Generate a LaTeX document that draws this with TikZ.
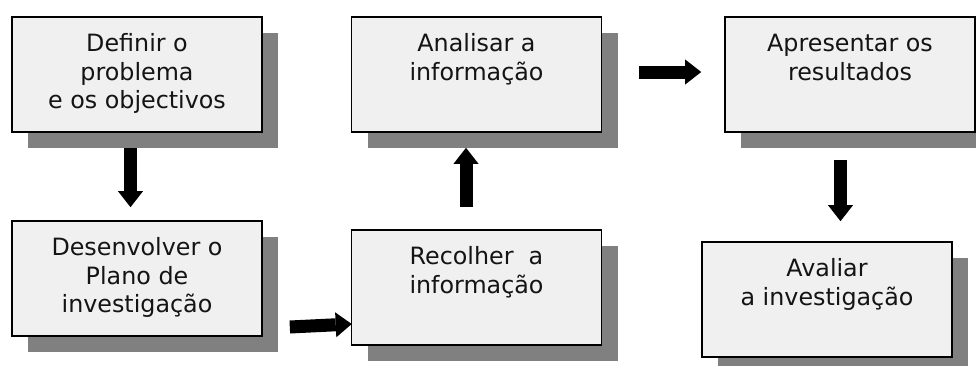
\documentclass[tikz,border=0pt]{standalone}
\usepackage{fontspec}
\setmainfont{DejaVu Sans}
\usetikzlibrary{arrows.meta,shadows,calc}
\definecolor{boxfill}{HTML}{F0F0F0}
\definecolor{shadowgray}{HTML}{808080}
\definecolor{txt}{HTML}{141414}
\tikzset{
  stepbox/.style={draw=black, line width=1.6pt, fill=boxfill, rectangle,
    minimum width=250pt, minimum height=115pt, inner sep=0pt,
    align=center, text=txt, font=\fontsize{23.8}{28.5}\selectfont,
    drop shadow={shadow xshift=16pt, shadow yshift=-16pt, fill=shadowgray, opacity=1}},
  blockarrow/.style={draw=black, line width=13pt,
    -{Triangle[width=25pt,length=16pt,line width=0pt]}}
}
\begin{document}
\begin{tikzpicture}[x=1pt,y=-1pt]
\useasboundingbox (0,0) rectangle (976,365);
\clip (0,0) rectangle (976,365);
\node[stepbox] (b1) at (137,74.5) {\strut Definir o\\\strut problema\\\strut e os objectivos};
\node[stepbox] (b2) at (137,278.5) {\strut Desenvolver o\\\strut Plano de\\\strut investigação};
\node[stepbox] (b3) at (476.5,74.5) {\strut Analisar a\\\strut informação\\\strut};
\node[stepbox] (b4) at (850,74.5) {\strut Apresentar os\\\strut resultados\\\strut};
\node[stepbox] (b5) at (476.5,287.5) {\strut Recolher\ \ a\\\strut informação\\\strut};
\node[stepbox] (b6) at (827,299.5) {\strut Avaliar\\\strut a investigação\\\strut};
% arrows
\draw[blockarrow] ([xshift=-6.5pt,yshift=-15pt]b1.south) -- ([xshift=-6.5pt,yshift=13pt]b2.north);
\draw[blockarrow] ([xshift=27pt,yshift=-48.5pt]b2.east) -- ([xshift=1pt,yshift=-36.5pt]b5.west);
\draw[blockarrow] ([xshift=-10.5pt,yshift=22pt]b5.north) -- ([xshift=-10.5pt,yshift=-15pt]b3.south);
\draw[blockarrow] ([xshift=37pt,yshift=2.5pt]b3.east) -- ([xshift=-23pt,yshift=2.5pt]b4.west);
\draw[blockarrow] ([xshift=-9.5pt,yshift=-27pt]b4.south) -- ([xshift=13.5pt,yshift=20pt]b6.north);
\end{tikzpicture}
\end{document}
